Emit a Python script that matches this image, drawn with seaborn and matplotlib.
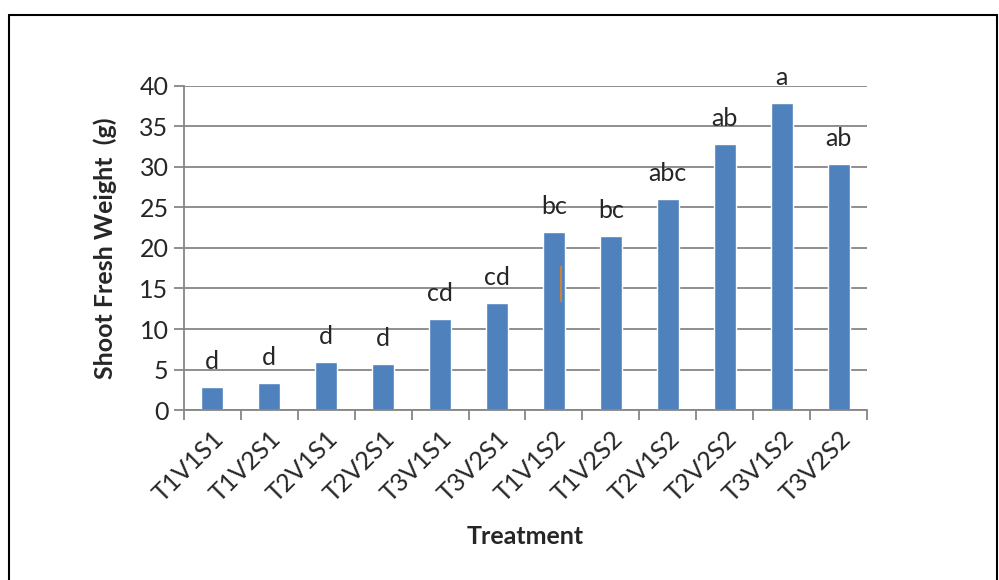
import pandas as pd
import seaborn as sns
import matplotlib.pyplot as plt
from matplotlib.lines import Line2D

# data
treatments = ["T1V1S1", "T1V2S1", "T2V1S1", "T2V2S1", "T3V1S1", "T3V2S1",
              "T1V1S2", "T1V2S2", "T2V1S2", "T2V2S2", "T3V1S2", "T3V2S2"]
weights = [2.8, 3.3, 5.9, 5.65, 11.2, 13.2, 22.0, 21.5, 26.0, 32.8, 37.9, 30.4]
letters = ["d", "d", "d", "d", "cd", "cd", "bc", "bc", "abc", "ab", "a", "ab"]

df = pd.DataFrame({"Treatment": treatments, "Weight": weights})

sns.set_theme(style="white")
plt.rcParams["font.family"] = ["Lato", "DejaVu Sans"]

fig = plt.figure(figsize=(9.99, 5.8), dpi=100)
ax = fig.add_axes([0.184, 0.293, 0.684, 0.559])

sns.barplot(data=df, x="Treatment", y="Weight", color="#4f81bd",
            saturation=1, width=0.39, ax=ax)

# stray orange mark inside the T1V1S2 bar
ax.vlines(6.12, 13.3, 17.8, color="#d9822b", lw=1.3)

for i, (v, t) in enumerate(zip(weights, letters)):
    ax.annotate(t, (i, v), xytext=(0, 10), textcoords="offset points",
                ha="center", va="bottom", fontsize=18)

ax.set_ylim(0, 40)
ax.set_yticks(range(0, 41, 5))
ax.set_xlim(-0.5, len(treatments) - 0.5)
ax.yaxis.grid(True, color="#868686", lw=1.3)
ax.set_axisbelow(True)

for s in ["top", "right"]:
    ax.spines[s].set_visible(False)
for s in ["left", "bottom"]:
    ax.spines[s].set_color("#868686")
    ax.spines[s].set_linewidth(1.3)

ax.tick_params(axis="y", left=True, length=7, width=1.3, color="#868686",
               labelsize=18, pad=4)
ax.tick_params(axis="x", which="major", length=0, labelsize=18, pad=12)
ax.set_xticks([i + 0.5 for i in range(-1, len(treatments))], minor=True)
ax.tick_params(axis="x", which="minor", bottom=True, length=7, width=1.3,
               color="#868686")
plt.setp(ax.get_xticklabels(), rotation=45, ha="right",
         rotation_mode="anchor")

ax.set_xlabel("Treatment", fontsize=18, fontweight="bold", labelpad=14)
ax.set_ylabel("Shoot Fresh Weight  (g)", fontsize=18, fontweight="bold",
              labelpad=16)

# outer frame
fw, fh = 999, 580
for xs, ys in [([9, 9], [580, 15]), ([9, 997], [15, 15]), ([997, 997], [15, 580])]:
    fig.add_artist(Line2D([x / fw for x in xs], [1 - y / fh for y in ys],
                          color="black", lw=1.5, transform=fig.transFigure))

fig.savefig("out.png", dpi=100)
